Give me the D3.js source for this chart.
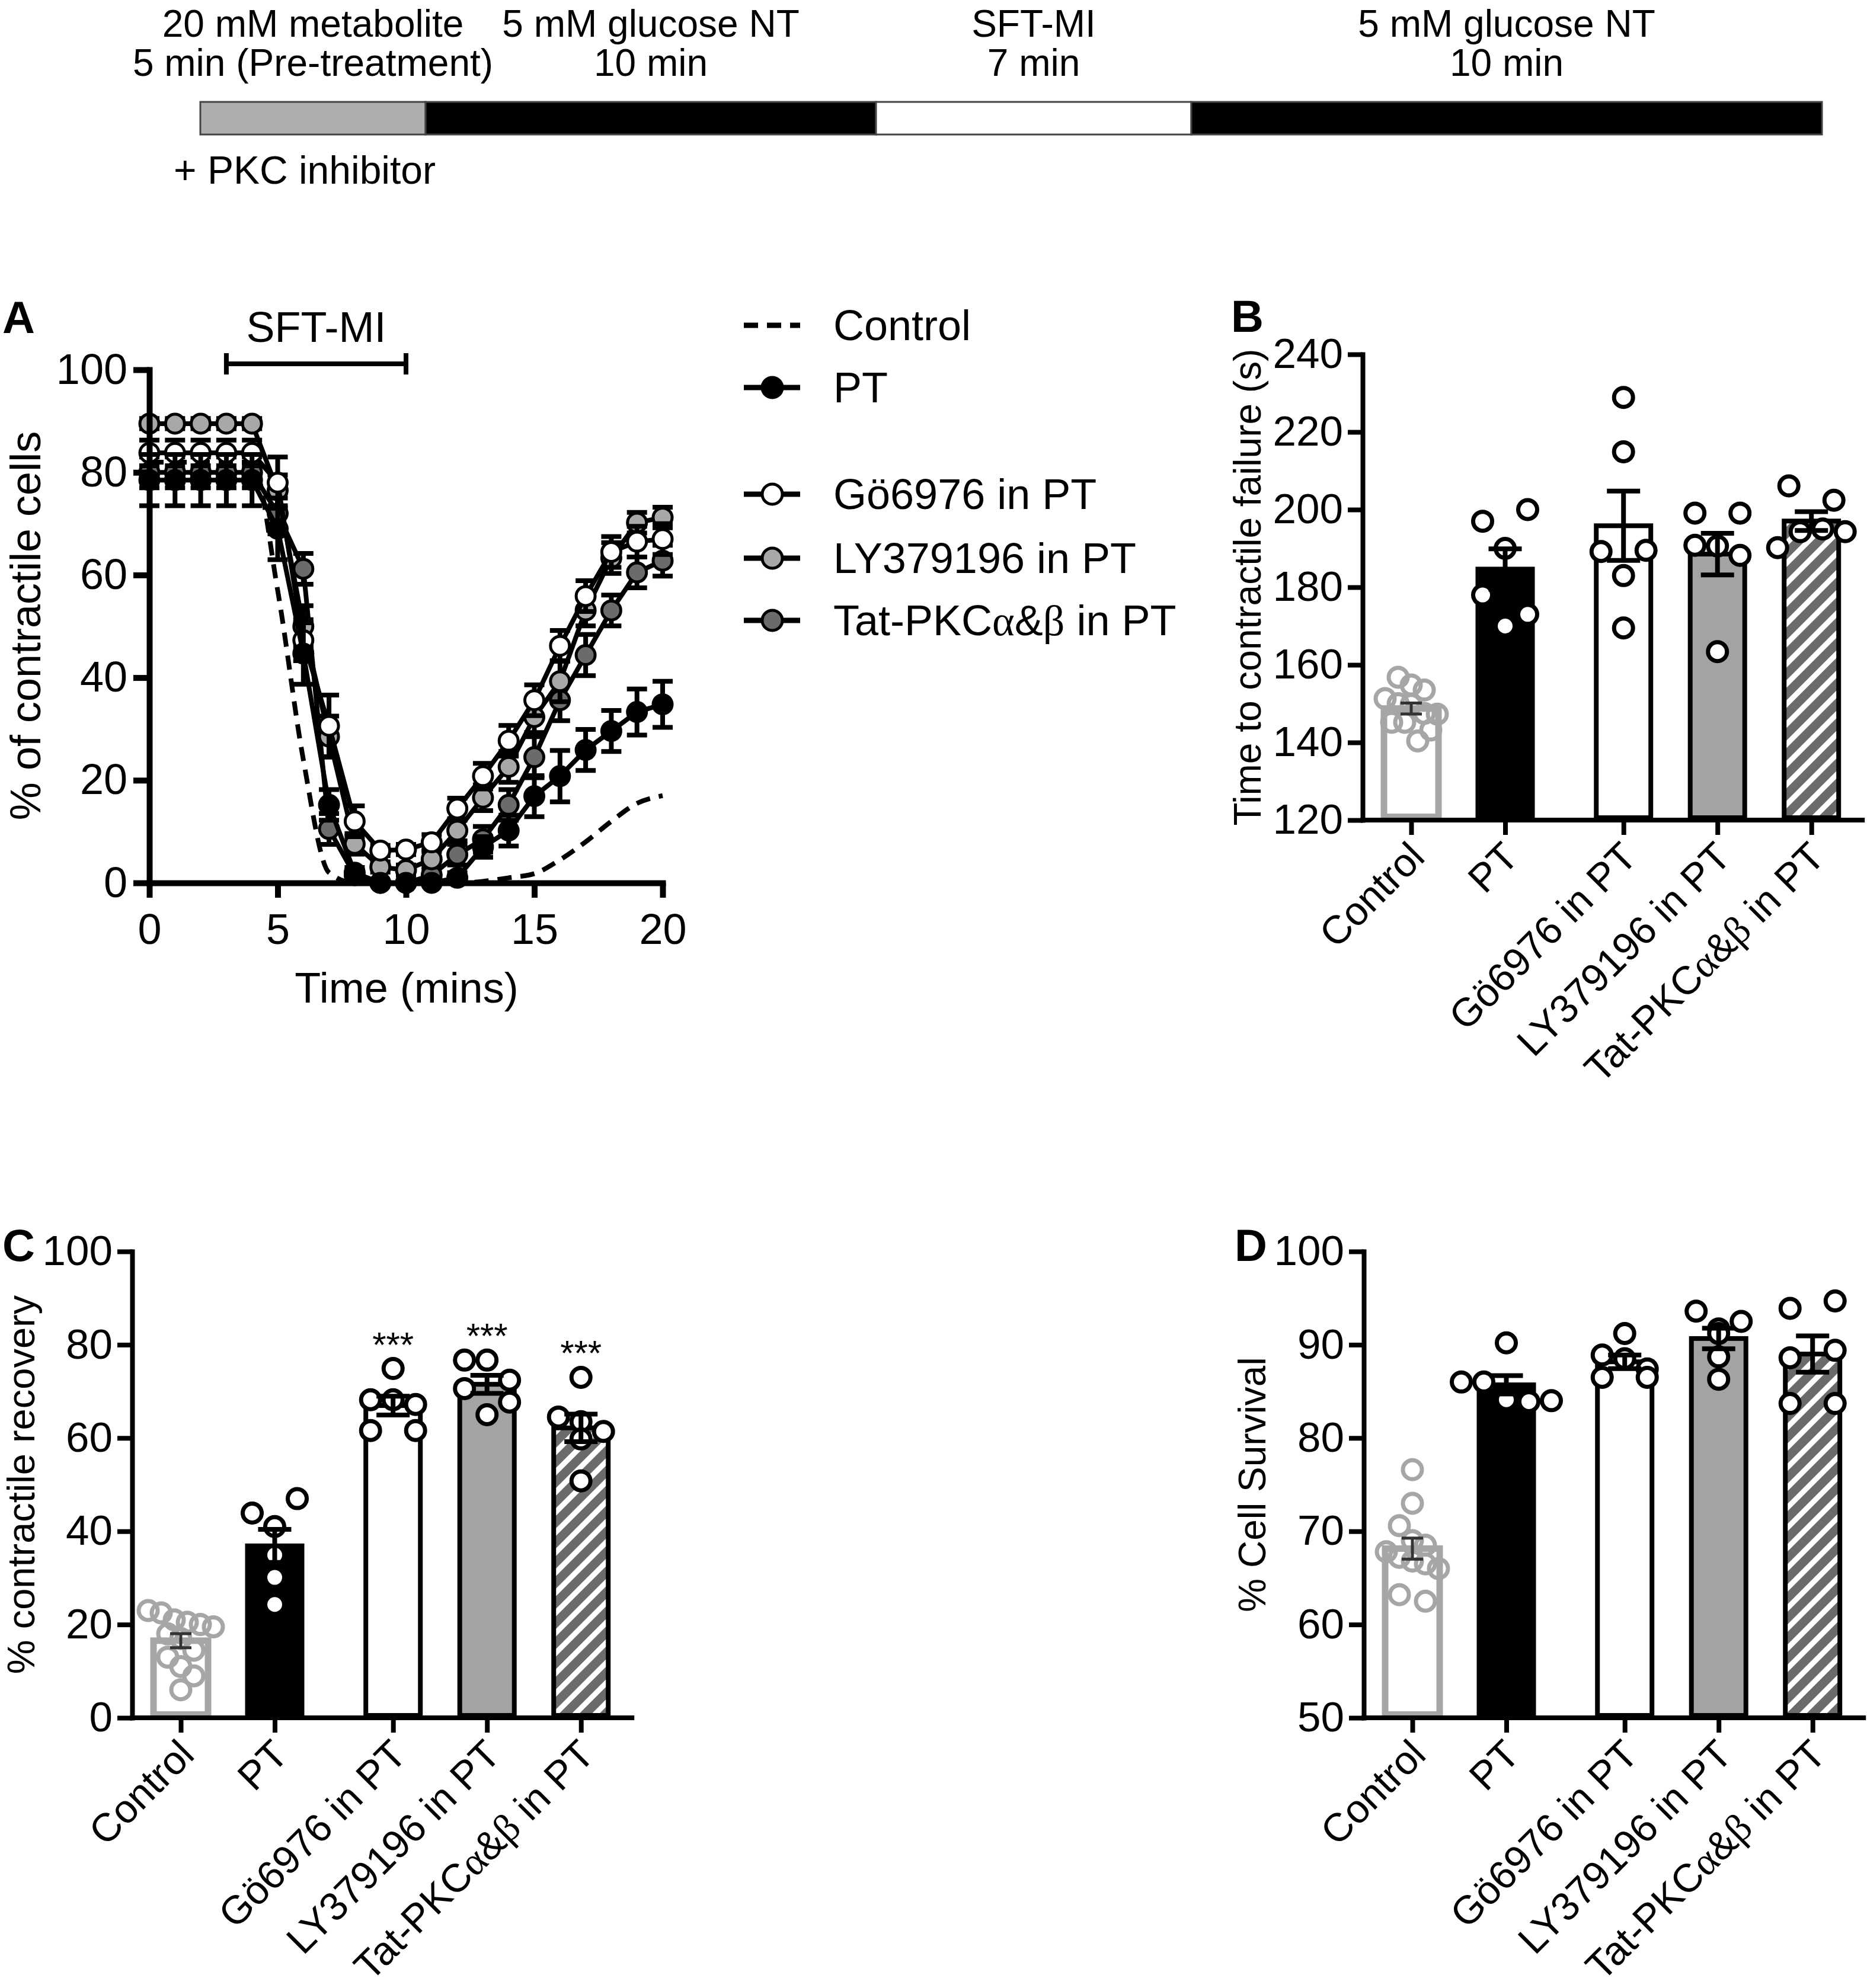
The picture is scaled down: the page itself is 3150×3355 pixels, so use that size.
<!DOCTYPE html>
<html>
<head>
<meta charset="utf-8">
<script src="https://cdn.jsdelivr.net/npm/d3@7"></script>
<style>
  body { margin: 0; background: #fff; }
  text { font-family: "Liberation Sans", Arial, sans-serif; fill: #000; }
</style>
</head>
<body>
<svg id="fig"></svg>
<script>
// ---- timeline at the top ----
var phaseLine1 = ["20 mM metabolite", "5 mM glucose NT", "SFT-MI", "5 mM glucose NT"];
var phaseLine2 = ["5 min (Pre-treatment)", "10 min", "7 min", "10 min"];
var phaseStart = [0, 5, 15, 22];
var phaseEnd   = [5, 15, 22, 36];

// ---- panel A : % of contractile cells over time ----
var timeMins = [0,1,2,3,4,5,6,7,8,9,10,11,12,13,14,15,16,17,18,19,20];
var ctrlCurve = [82,82,82,82,82,57,24,2,0,0,0,0,0,0.3,1,1.8,4.5,8,12,15.5,17];
var ptMean  = [78.5,78.5,78.5,78.5,78.5,69,44.7,15.2,2,0,0,0,1,7,10.2,16.9,20.8,25.9,29.6,33.3,34.8];
var ptSem   = [5,5,5,5,5,6,6,3,1,0.5,0.5,0.5,1,2,3,4,5,4,4,4.5,4.5];
var goMean  = [83.8,83.8,83.8,83.8,83.8,78,47.3,30.6,12,6.3,6.5,7.9,14.5,20.8,27.7,35.6,46.2,55.9,64.5,66.5,67];
var goSem   = [2.5,2.5,2.5,2.5,2.5,5,4,6,3,1,1,1.5,2,2.5,3,3,3,3,3,3,3];
var lyMean  = [89.5,89.5,89.5,89.5,89.5,76.5,50,28.5,7.6,3.1,2.5,4.6,10.2,16.6,22.6,32.3,39.3,53.1,63.3,70.2,71.2];
var lySem   = [1,1,1,1,1,3,4,4,2,1,1,1.5,2,2.5,3,3,4,3,3,2,2];
var tatMean = [80,80,80,80,80,72,61.2,10.5,1.5,0,0,1.5,5.5,8.5,15.2,24.5,35.6,44.4,53.1,60.5,62.8];
var tatSem  = [3,3,3,3,3,4,3,3,1,0.5,0.5,1,2,2.5,3,4,4,4,3,3,3];
var timeTicks = [0, 5, 10, 15, 20];
var pctTicks = [0, 20, 40, 60, 80, 100];

// ---- bar panels ----
var groups = ["Control", "PT", "Gö6976 in PT", "LY379196 in PT", "Tat-PKCα&β in PT"];
// B: time to contractile failure (s)
var failControl = [156.8,154.8,153.5,151.3,150,149.8,147.5,147.3,145.2,145.2,140.4,143.2];
var failPT  = [197,200,190,178,170,173];
var failGo  = [228.9,214.9,189.2,189.5,183,169.5];
var failLY  = [199.1,199.1,190.8,190.6,188.2,163.4];
var failTat = [206.1,202.4,190.2,194.3,195,194.3];
var failTicks = [120,140,160,180,200,220,240];
// C: % contractile recovery
var recControl = [23,22.5,21,20.5,20,19.5,18,17,14.5,13,11,9,6];
var recPT  = [43.9,47,41,34.9,30.1,24.3];
var recGo  = [74.9,68.2,68.2,67.2,61.6,61.6];
var recLY  = [76.7,76.7,72.4,70.6,65,67.7];
var recTat = [73,64.5,63.5,61.4,59.8,50.8];
var recSig = ["", "", "***", "***", "***"];
var recTicks = [0,20,40,60,80,100];
// D: % cell survival
var survControl = [76.6,73,70.6,69,68.5,67.8,67.2,66.8,66.5,66,63.2,62.5];
var survPT  = [90.2,86,86,84.1,83.9,84];
var survGo  = [91.2,88.9,88.5,87.4,86.5,86.5];
var survLY  = [93.6,91.7,92.5,91.2,88.7,86.3];
var survTat = [93.9,94.7,88.6,89.4,83.7,83.7];
var survTicks = [50,60,70,80,90,100];

var W = 3150, H = 3355;
var svg = d3.select("#fig").attr("width", W).attr("height", H);
svg.append("rect").attr("width", W).attr("height", H).attr("fill", "#fff");

var defs = svg.append("defs");
var pat = defs.append("pattern").attr("id", "hatch")
  .attr("patternUnits", "userSpaceOnUse").attr("width", 24).attr("height", 24)
  .attr("patternTransform", "rotate(45)");
pat.append("rect").attr("width", 24).attr("height", 24).attr("fill", "#fff");
pat.append("rect").attr("width", 15).attr("height", 24).attr("fill", "#6b6b6b");

// text with serif greek letters
function richText(sel, str) {
  str.split(/([αβ])/).forEach(function(part) {
    if (!part) return;
    var t = sel.append("tspan").text(part);
    if (part === "α" || part === "β") t.attr("font-family", "'Liberation Serif','DejaVu Serif',serif");
  });
}

function styleAxis(g, sw, fs) {
  g.attr("font-family", null).attr("font-size", null);
  g.selectAll(".domain").attr("stroke", "#000").attr("stroke-width", sw).attr("stroke-linecap", "square");
  g.selectAll(".tick line").attr("stroke", "#000").attr("stroke-width", sw);
  g.selectAll(".tick text").attr("font-size", fs).attr("fill", "#000");
}

// ===================== timeline =====================
var tScale = d3.scaleLinear().domain([0, 36]).range([338, 3074]);
var phaseFill = ["#b0aeac", "#000", "#fff", "#000"];
var gT = svg.append("g");
phaseStart.forEach(function(s, i) {
  gT.append("rect")
    .attr("x", tScale(s)).attr("width", tScale(phaseEnd[i]) - tScale(s))
    .attr("y", 172).attr("height", 55)
    .attr("fill", phaseFill[i]).attr("stroke", "#444").attr("stroke-width", 3);
  var cx = tScale((s + phaseEnd[i]) / 2);
  gT.append("text").attr("x", cx).attr("y", 62).attr("text-anchor", "middle")
    .attr("font-size", 64).text(phaseLine1[i]);
  gT.append("text").attr("x", cx).attr("y", 128).attr("text-anchor", "middle")
    .attr("font-size", 64).text(phaseLine2[i]);
});
gT.append("text").attr("x", 293).attr("y", 310).attr("font-size", 66).text("+ PKC inhibitor");

// ===================== panel A =====================
var xA = d3.scaleLinear().domain([0, 20]).range([252, 1118]);
var yA = d3.scaleLinear().domain([0, 100]).range([1490, 624]);
var gA = svg.append("g");

var lineA = d3.line().x(function(d, i) { return xA(timeMins[i]); }).y(function(d) { return yA(d); });
var ctrlLine = d3.line().x(function(d, i) { return xA(timeMins[i]); }).y(function(d) { return yA(d); })
  .curve(d3.curveMonotoneX);

gA.append("path").attr("d", ctrlLine(ctrlCurve)).attr("fill", "none")
  .attr("stroke", "#000").attr("stroke-width", 8).attr("stroke-dasharray", "24,15");

var seriesA = [
  { name: "Tat-PKCα&β in PT", mean: tatMean, sem: tatSem, fill: "#6b6b6b" },
  { name: "LY379196 in PT",   mean: lyMean,  sem: lySem,  fill: "#a8a8a8" },
  { name: "Gö6976 in PT",     mean: goMean,  sem: goSem,  fill: "#fff" },
  { name: "PT",               mean: ptMean,  sem: ptSem,  fill: "#000" }
];
seriesA.forEach(function(s) {
  var eg = gA.append("g");
  s.mean.forEach(function(m, i) {
    var x = xA(timeMins[i]), e = s.sem[i];
    if (e <= 0.6) return;
    eg.append("path")
      .attr("d", "M" + (x - 17) + "," + yA(m + e) + "H" + (x + 17) +
                 "M" + x + "," + yA(m + e) + "V" + yA(m - e) +
                 "M" + (x - 17) + "," + yA(m - e) + "H" + (x + 17))
      .attr("fill", "none").attr("stroke", "#000").attr("stroke-width", 8);
  });
  gA.append("path").attr("d", lineA(s.mean)).attr("fill", "none")
    .attr("stroke", "#000").attr("stroke-width", 8);
  gA.append("g").selectAll("circle").data(s.mean).join("circle")
    .attr("cx", function(d, i) { return xA(timeMins[i]); })
    .attr("cy", function(d) { return yA(d); })
    .attr("r", 16).attr("fill", s.fill).attr("stroke", "#000").attr("stroke-width", 5);
});

var axA_x = gA.append("g").attr("transform", "translate(0,1490)")
  .call(d3.axisBottom(xA).tickValues(timeTicks).tickSize(25).tickPadding(27).tickSizeOuter(0));
styleAxis(axA_x, 10, 72);
var axA_y = gA.append("g").attr("transform", "translate(252,0)")
  .call(d3.axisLeft(yA).tickValues(pctTicks).tickSize(27).tickPadding(10).tickSizeOuter(0));
styleAxis(axA_y, 10, 72);

gA.append("text").attr("x", 686).attr("y", 1692).attr("text-anchor", "middle")
  .attr("font-size", 72).text("Time (mins)");
gA.append("text").attr("transform", "translate(68,1056) rotate(-90)").attr("text-anchor", "middle")
  .attr("font-size", 72).text("% of contractile cells");
gA.append("text").attr("x", 4).attr("y", 562).attr("font-size", 76).attr("font-weight", "bold").text("A");

// SFT-MI bracket
gA.append("path")
  .attr("d", "M" + xA(3) + ",596V632M" + xA(3) + ",614H" + xA(10) + "M" + xA(10) + ",596V632")
  .attr("fill", "none").attr("stroke", "#000").attr("stroke-width", 8);
gA.append("text").attr("x", xA(6.5)).attr("y", 577).attr("text-anchor", "middle")
  .attr("font-size", 72).text("SFT-MI");

// legend
var legRows = [
  { name: "Control", y: 549, dash: true },
  { name: "PT", y: 654, fill: "#000" },
  { name: "Gö6976 in PT", y: 834, fill: "#fff" },
  { name: "LY379196 in PT", y: 942, fill: "#a8a8a8" },
  { name: "Tat-PKCα&β in PT", y: 1047, fill: "#6b6b6b" }
];
var gL = svg.append("g");
legRows.forEach(function(r) {
  var ln = gL.append("line").attr("x1", 1255).attr("x2", 1350).attr("y1", r.y).attr("y2", r.y)
    .attr("stroke", "#000").attr("stroke-width", 9);
  if (r.dash) {
    ln.attr("stroke-dasharray", "24,15");
  } else {
    gL.append("circle").attr("cx", 1303).attr("cy", r.y).attr("r", 17)
      .attr("fill", r.fill).attr("stroke", "#000").attr("stroke-width", 5);
  }
  var t = gL.append("text").attr("x", 1406).attr("y", r.y + 25).attr("font-size", 72);
  richText(t, r.name);
});

// ===================== bar panels =====================
var groupStyle = [
  { fill: "#fff", stroke: "#a6a6a8", sw: 11, pt: "#a6a6a8", ptFill: "none", step: 22 },
  { fill: "#000", stroke: "#000", sw: 8, pt: "#000", ptFill: "#fff", step: 38 },
  { fill: "#fff", stroke: "#000", sw: 8, pt: "#000", ptFill: "#fff", step: 38 },
  { fill: "#a3a3a5", stroke: "#000", sw: 8, pt: "#000", ptFill: "#fff", step: 38 },
  { fill: "url(#hatch)", stroke: "#000", sw: 8, pt: "#000", ptFill: "#fff", step: 38 }
];
var slots = groups.map(function(d, i) { return i + (i >= 2 ? 0.26 : 0); });

// spread dots of one group into rows, like a column scatter
function spread(vals, y, step) {
  var order = vals.map(function(v, i) { return i; })
    .sort(function(a, b) { return vals[b] - vals[a]; });
  var off = new Array(vals.length), row = [];
  function flush() {
    row.sort(function(a, b) { return a - b; });
    row.forEach(function(idx, k) {
      var n = row.length;
      off[idx] = n === 2 ? (k === 0 ? -step : step) : (k - (n - 1) / 2) * step;
    });
    row = [];
  }
  order.forEach(function(idx) {
    if (row.length && y(vals[idx]) - y(vals[row[0]]) > 36) flush();
    row.push(idx);
  });
  flush();
  return off;
}

function barPanel(o) {
  var g = svg.append("g");
  var y = d3.scaleLinear().domain(o.domain).range([o.y0, o.y1]);
  var x = d3.scaleLinear().domain([0, 1]).range([o.ax + 82, o.ax + 82 + 158.5]);
  var xEnd = x(slots[4]) + 86;

  o.sets.forEach(function(vals, i) {
    var st = groupStyle[i];
    var m = d3.mean(vals), se = d3.deviation(vals) / Math.sqrt(vals.length);
    var cx = x(slots[i]);
    g.append("rect").attr("x", cx - 46).attr("width", 92)
      .attr("y", y(m)).attr("height", o.y0 - y(m) - st.sw / 2)
      .attr("fill", st.fill).attr("stroke", st.stroke).attr("stroke-width", st.sw);
    var off = spread(vals, y, st.step);
    g.append("g").selectAll("circle").data(vals).join("circle")
      .attr("cx", function(d, k) { return cx + off[k]; })
      .attr("cy", function(d) { return y(d); })
      .attr("r", 16).attr("fill", st.ptFill).attr("stroke", st.pt).attr("stroke-width", 7);
    var cw = i === 0 ? 18 : 28;
    g.append("path")
      .attr("d", "M" + (cx - cw) + "," + y(m + se) + "H" + (cx + cw) +
                 "M" + cx + "," + y(m + se) + "V" + y(m - se) +
                 "M" + (cx - cw) + "," + y(m - se) + "H" + (cx + cw))
      .attr("fill", "none").attr("stroke", i === 0 ? "#333" : "#000").attr("stroke-width", i === 0 ? 5 : 8);
    if (o.sig && o.sig[i]) {
      g.append("text").attr("x", cx).attr("y", y(d3.max(vals)) - 20)
        .attr("text-anchor", "middle").attr("font-size", 60).text(o.sig[i]);
    }
  });

  var ay = g.append("g").attr("transform", "translate(" + o.ax + ",0)")
    .call(d3.axisLeft(y).tickValues(o.ticks).tickSize(25).tickPadding(8).tickSizeOuter(0));
  styleAxis(ay, 8, 71);
  g.append("line").attr("x1", o.ax).attr("x2", xEnd).attr("y1", o.y0).attr("y2", o.y0)
    .attr("stroke", "#000").attr("stroke-width", 8).attr("stroke-linecap", "square");
  var ax = g.append("g").attr("transform", "translate(0," + o.y0 + ")")
    .call(d3.axisBottom(x).tickValues(slots).tickSize(25).tickSizeOuter(0).tickFormat(""));
  ax.select(".domain").remove();
  styleAxis(ax, 8, 71);

  groups.forEach(function(name, i) {
    var t = g.append("text")
      .attr("transform", "translate(" + (x(slots[i]) + 26) + "," + (o.y0 + 66) + ") rotate(-45)")
      .attr("text-anchor", "end").attr("font-size", 67);
    richText(t, name);
  });

  g.append("text").attr("transform", "translate(" + o.labX + "," + ((o.y0 + o.y1) / 2) + ") rotate(-90)")
    .attr("text-anchor", "middle").attr("font-size", o.labSize).text(o.label);
  g.append("text").attr("x", o.letterX).attr("y", o.letterY).attr("font-size", 76)
    .attr("font-weight", "bold").text(o.letter);
}

barPanel({ letter: "B", letterX: 2077, letterY: 560, ax: 2299, y0: 1384, y1: 598,
  domain: [120, 240], ticks: failTicks, label: "Time to contractile failure (s)", labX: 2127, labSize: 64,
  sets: [failControl, failPT, failGo, failLY, failTat] });

barPanel({ letter: "C", letterX: 4, letterY: 2128, ax: 223, y0: 2899, y1: 2112,
  domain: [0, 100], ticks: recTicks, label: "% contractile recovery", labX: 58, labSize: 65,
  sets: [recControl, recPT, recGo, recLY, recTat], sig: recSig });

barPanel({ letter: "D", letterX: 2083, letterY: 2128, ax: 2301, y0: 2899, y1: 2112,
  domain: [50, 100], ticks: survTicks, label: "% Cell Survival", labX: 2135, labSize: 64,
  sets: [survControl, survPT, survGo, survLY, survTat] });
</script>
</body>
</html>
